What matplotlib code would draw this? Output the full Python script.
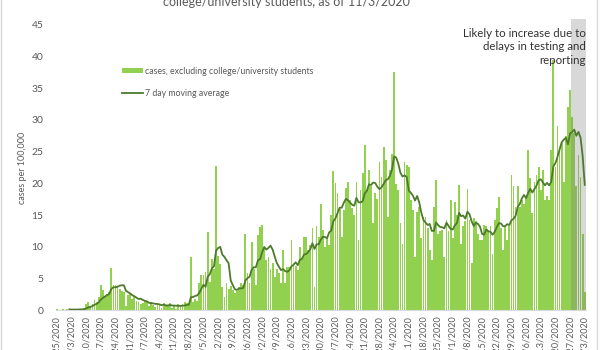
import numpy as np
import pandas as pd
import matplotlib
matplotlib.use("Agg")
import matplotlib.pyplot as plt
from matplotlib.patches import Rectangle

plt.rcParams['font.family'] = ['Lato', 'DejaVu Sans']

# daily cases per 100,000 (excluding college/university students), 2/25/2020 - 11/3/2020
dates = pd.date_range('2020-02-25', '2020-11-03', freq='D')
cases = [
    0.2, 0, 0, 0.2, 0, 0.2, 0.2,
    0, 0, 0.1, 0.1, 0.2, 0.2, 0.3,
    0.9, 1.2, 0.7, 1.0, 1.6, 1.2, 2.0,
    3.9, 3.1, 2.2, 2.6, 2.8, 6.7, 3.9,
    3.9, 3.7, 3.4, 3.0, 2.8, 0.6, 2.4,
    2.5, 1.8, 2.2, 1.5, 1.3, 0.9, 1.1,
    1.4, 1.2, 0.6, 1.3, 0.8, 0.5, 1.0,
    0.9, 0.3, 1.1, 0.7, 0.6, 1.1, 0.4,
    0.8, 0.1, 1.0, 0.6, 0.9, 1.3, 1.1,
    1.0, 8.3, 1.2, 1.8, 1.5, 4.2, 5.5,
    5.5, 6.0, 12.3, 4.5, 8.0, 6.5, 22.8,
    8.5, 7.2, 3.7, 2.1, 4.2, 3.3, 3.8,
    3.2, 2.7, 3.0, 3.7, 4.2, 3.9, 12.0,
    5.8, 4.2, 10.8, 6.5, 4.0, 11.8, 13.1,
    13.5, 10.0, 7.9, 8.4, 6.5, 7.5, 5.3,
    6.5, 5.8, 4.2, 9.5, 4.2, 6.8, 6.8,
    11.1, 7.4, 7.0, 6.3, 10.0, 8.0, 11.6,
    11.6, 9.5, 10.2, 12.9, 3.7, 13.2, 11.5,
    16.8, 12.6, 10.0, 11.6, 10.2, 15.0, 21.9,
    20.0, 18.4, 16.0, 11.6, 15.8, 19.2, 20.2,
    17.4, 16.1, 15.0, 20.2, 11.0, 19.0, 21.6,
    26.0, 19.0, 22.1, 19.5, 13.7, 18.4, 17.5,
    23.4, 21.0, 25.8, 23.7, 14.7, 22.1, 24.7,
    37.6, 19.9, 19.0, 13.7, 10.5, 23.4, 22.9,
    22.6, 17.4, 15.8, 8.4, 15.5, 16.3, 11.4,
    14.7, 14.7, 13.0, 9.5, 7.9, 16.3, 20.6,
    12.0, 12.4, 12.7, 8.4, 14.2, 12.5, 17.4,
    11.4, 17.1, 15.0, 19.8, 10.5, 13.2, 14.0,
    19.1, 14.2, 7.4, 14.5, 14.0, 12.0, 11.0,
    11.0, 13.4, 13.2, 12.5, 13.2, 8.9, 14.2,
    16.1, 17.9, 12.9, 9.5, 13.2, 11.1, 13.2,
    21.3, 19.5, 16.3, 19.5, 16.3, 17.4, 16.8,
    17.9, 25.3, 20.8, 15.3, 20.2, 21.3, 22.6,
    18.9, 22.1, 17.4, 18.0, 17.4, 25.3, 39.5,
    22.6, 29.0, 25.3, 26.3, 20.2, 27.4, 32.1,
    34.8, 30.5, 28.0, 19.5, 24.5, 21.0, 12.0,
    2.8,
]
# last week shaded: recent counts likely incomplete
pending_days = 7
note = 'Likely to increase due to\ndelays in testing and\nreporting'
title = 'Daily COVID-19 cases per 100,000 excluding\ncollege/university students, as of 11/3/2020'

ma7 = pd.Series(cases).rolling(7).mean()
x = np.arange(len(cases))
tick_pos = x[::7]
tick_labels = [f'{d.month}/{d.day}/{d.year}' for d in dates[::7]]

fig = plt.figure(figsize=(6, 3.5), dpi=100)
ax = fig.add_axes([0.093, 0.114, 0.884, 0.815])

bars = ax.bar(x, cases, width=0.85, color='#92D050', zorder=2)
line, = ax.plot(x, ma7, color='#4E7A2C', lw=1.3, zorder=4)

ax.axvspan(len(cases) - pending_days - 0.5, len(cases) - 0.3, ymin=0, ymax=1.02,
           color='#808080', alpha=0.3, lw=0, zorder=3, clip_on=False)

ax.set_xlim(-0.5, len(cases) - 0.3)
ax.set_ylim(0, 45)
ax.set_yticks(range(0, 46, 5))
ax.set_xticks(tick_pos)
ax.set_xticklabels(tick_labels, rotation=90, fontsize=6.5, color='#595959')
ax.tick_params(axis='both', length=0)
ax.tick_params(axis='y', labelsize=7.5, labelcolor='#595959', pad=9)
ax.tick_params(axis='x', pad=4)
for s in ['top', 'right', 'left']:
    ax.spines[s].set_visible(False)
ax.spines['bottom'].set_color('#D9D9D9')

ax.set_ylabel('cases per 100,000', fontsize=6.5, color='#595959', labelpad=3)

ax.text(len(cases) - 0.3, 44.5, note, ha='right', va='top', fontsize=8.3,
        color='#333333', linespacing=1.25, zorder=5)

ax.legend([bars, line], ['cases, excluding college/university students', '7 day moving average'],
          loc='upper left', bbox_to_anchor=(0.11, 0.88), frameon=False, fontsize=6.3,
          labelcolor='#595959', handlelength=2.4, handleheight=0.5, labelspacing=1.5,
          handletextpad=0.2)

fig.text(0.478, 0.977, title, ha='center', va='bottom', fontsize=9, color='#595959',
         linespacing=1.3)

fig.patches.append(Rectangle((0.002, -0.01), 0.993, 1.02, transform=fig.transFigure,
                             fill=False, edgecolor='#D9D9D9', lw=1))

fig.savefig('out.png', dpi=100)
